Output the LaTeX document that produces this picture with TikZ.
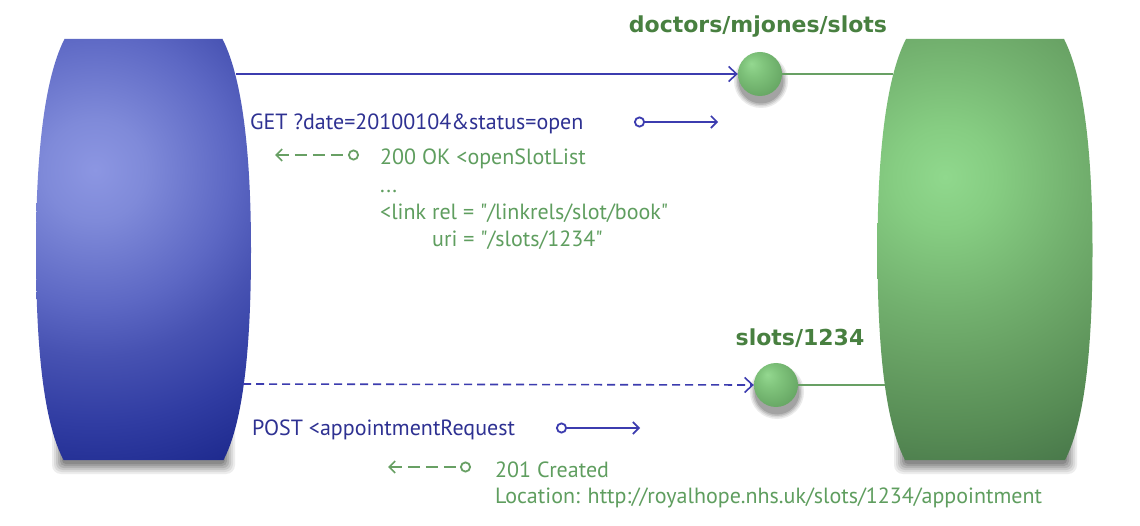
\documentclass[tikz,border=0pt]{standalone}
\usepackage{fontspec}
\setmainfont{PT Sans}
\newfontfamily\labelfont{DejaVu Sans}
\usetikzlibrary{arrows.meta}
\definecolor{bl0}{RGB}{140,150,226}
\definecolor{bl1}{RGB}{127,138,217}
\definecolor{bl2}{RGB}{93,104,196}
\definecolor{bl3}{RGB}{71,82,178}
\definecolor{bl4}{RGB}{48,60,162}
\definecolor{bl5}{RGB}{29,41,141}
\definecolor{gr0}{RGB}{144,216,141}
\definecolor{gr1}{RGB}{134,205,130}
\definecolor{gr2}{RGB}{114,176,110}
\definecolor{gr3}{RGB}{103,160,99}
\definecolor{gr4}{RGB}{87,140,85}
\definecolor{gr5}{RGB}{70,116,72}
\definecolor{gb0}{RGB}{148,216,144}
\definecolor{gb1}{RGB}{128,196,124}
\definecolor{gb2}{RGB}{104,168,101}
\definecolor{gb3}{RGB}{85,143,84}
\definecolor{bluetxt}{RGB}{46,49,146}
\definecolor{bluelin}{RGB}{60,60,175}
\definecolor{greentxt}{RGB}{95,158,95}
\definecolor{greenlab}{RGB}{72,128,64}
\definecolor{greenlin}{RGB}{104,160,100}
\pgfdeclareradialshading{bluebody}{\pgfpoint{0bp}{0bp}}{color(0bp)=(bl0); color(3bp)=(bl1); color(8bp)=(bl2); color(11bp)=(bl3); color(15bp)=(bl4); color(19bp)=(bl5); color(50bp)=(bl5)}
\pgfdeclareradialshading{greenbody}{\pgfpoint{0bp}{0bp}}{color(0bp)=(gr0); color(3bp)=(gr1); color(8bp)=(gr2); color(11bp)=(gr3); color(15bp)=(gr4); color(19bp)=(gr5); color(50bp)=(gr5)}
\pgfdeclareradialshading{greenball}{\pgfpoint{-10bp}{12bp}}{color(0bp)=(gb0); color(12bp)=(gb1); color(30bp)=(gb2); color(50bp)=(gb3)}
\tikzset{
  bluetext/.style={anchor=base west, inner sep=0pt, text=bluetxt, font=\fontsize{22}{26}\selectfont},
  greentext/.style={anchor=base west, inner sep=0pt, text=greentxt, font=\fontsize{22}{26}\selectfont},
  greenlabel/.style={anchor=base, inner sep=0pt, text=greenlab, font=\labelfont\fontsize{22}{26}\selectfont\bfseries},
  ballnode/.style={circle, inner sep=0pt, minimum size=44pt, shading=greenball},
  blueline/.style={draw=bluelin, line width=1.6pt},
  greenline/.style={draw=greenlin, line width=1.8pt},
  bigtip/.tip={Straight Barb[length=8pt,width=15pt,line width=1.6pt]},
  smalltip/.tip={Straight Barb[length=6pt,width=12pt,line width=1.6pt]},
  ringtip/.tip={Circle[open,length=11pt,width=11pt,line width=1.8pt]},
  dashpat/.style={dash pattern=on 12pt off 6pt},
}
\def\barrel{(-79,39) -- (79,39) .. controls (100,80) and (107.5,160) .. (107.5,250) .. controls (107.5,340) and (101,420) .. (80,460) -- (-80,460) .. controls (-101,420) and (-107.5,340) .. (-107.5,250) .. controls (-107.5,160) and (-100,80) .. (-79,39) -- cycle}
\begin{document}
\begin{tikzpicture}[x=1pt,y=-1pt]
\useasboundingbox (0,0) rectangle (1140,526);
\fill[white] (0,0) rectangle (1140,526);
% soft shadows below the two bodies (explicit layers, lightest and largest first)
\fill[black!7,  rounded corners=9pt] (52,380) rectangle (235,474);
\fill[black!14, rounded corners=8pt] (54,380) rectangle (233,472);
\fill[black!22, rounded corners=7pt] (56,380) rectangle (231,470);
\fill[black!30, rounded corners=6pt] (58,380) rectangle (229,468);
\fill[black!38, rounded corners=5pt] (60,380) rectangle (227,466);
\fill[black!46, rounded corners=4pt] (62,380) rectangle (225,464);
\fill[black!7,  rounded corners=9pt] (894,380) rectangle (1077,474);
\fill[black!14, rounded corners=8pt] (896,380) rectangle (1075,472);
\fill[black!22, rounded corners=7pt] (898,380) rectangle (1073,470);
\fill[black!30, rounded corners=6pt] (900,380) rectangle (1071,468);
\fill[black!38, rounded corners=5pt] (902,380) rectangle (1069,466);
\fill[black!46, rounded corners=4pt] (904,380) rectangle (1067,464);
% blue body
\begin{scope}[xshift=143.5pt]
  \clip \barrel;
  \shade[shading=bluebody] (-48.5,170) circle (424pt);
\end{scope}
% green body
\begin{scope}[xshift=985pt]
  \clip \barrel;
  \shade[shading=greenbody] (-40,177) circle (424pt);
\end{scope}
% ball shadows
\fill[black!8]  (761,81) circle (27pt);
\fill[black!16] (761,81) circle (25.5pt);
\fill[black!26] (761,81) circle (24pt);
\fill[black!36] (761,81) circle (22.5pt);
\fill[black!8]  (777,392) circle (27pt);
\fill[black!16] (777,392) circle (25.5pt);
\fill[black!26] (777,392) circle (24pt);
\fill[black!36] (777,392) circle (22.5pt);
\node[ballnode] (b1) at (760,74) {};
\node[ballnode] (b2) at (776,385) {};
% attachment points on the bodies
\coordinate (cl1) at (236,74);
\coordinate (cl2) at (243,384);
\coordinate (sr1) at (893,74);
\coordinate (sr2) at (885,385);
% main connectors
\draw[blueline, -{bigtip}] (cl1) -- (b1.west);
\draw[greenline] (b1.east) -- (sr1);
\draw[blueline, dash pattern=on 8pt off 5pt, -{bigtip}] (cl2) -- (b2.west);
\draw[greenline] (b2.east) -- (sr2);
% labels
\node[greenlabel] (lab1) at (758,33) {doctors/mjones/slots};
\node[greenlabel] (lab2) at (800,346) {slots/1234};
% texts
\node[bluetext] (get) at (250,130) {GET ?date=20100104\&status=open};
\node[greentext] (ok) at (380,165) {200 OK <openSlotList};
\node[greentext] (dots) at (380,193) {...};
\node[greentext] (link) at (380,220) {<link rel = \textquotedbl/linkrels/slot/book\textquotedbl};
\node[greentext] (uri) at (432,247) {uri = \textquotedbl/slots/1234\textquotedbl};
\node[bluetext] (post) at (252,435) {POST <appointmentRequest};
\node[greentext] (created) at (495,477) {201 Created};
\node[greentext] (loc) at (495,503) {Location: http://royalhope.nhs.uk/slots/1234/appointment};
% small arrows
\coordinate (ga) at (634,122);
\coordinate (gb) at (718,122);
\draw[blueline, {ringtip}-{smalltip}] (ga) -- (gb);
\coordinate (ra) at (275,155);
\coordinate (rb) at (359,155);
\draw[greenline, line width=1.6pt, dashpat, {smalltip}-{ringtip}] (ra) -- (rb);
\coordinate (pa) at (556,428);
\coordinate (pb) at (640,428);
\draw[blueline, {ringtip}-{smalltip}] (pa) -- (pb);
\coordinate (ca) at (388,467);
\coordinate (cb) at (471,467);
\draw[greenline, line width=1.6pt, dashpat, {smalltip}-{ringtip}] (ca) -- (cb);
\end{tikzpicture}
\end{document}
